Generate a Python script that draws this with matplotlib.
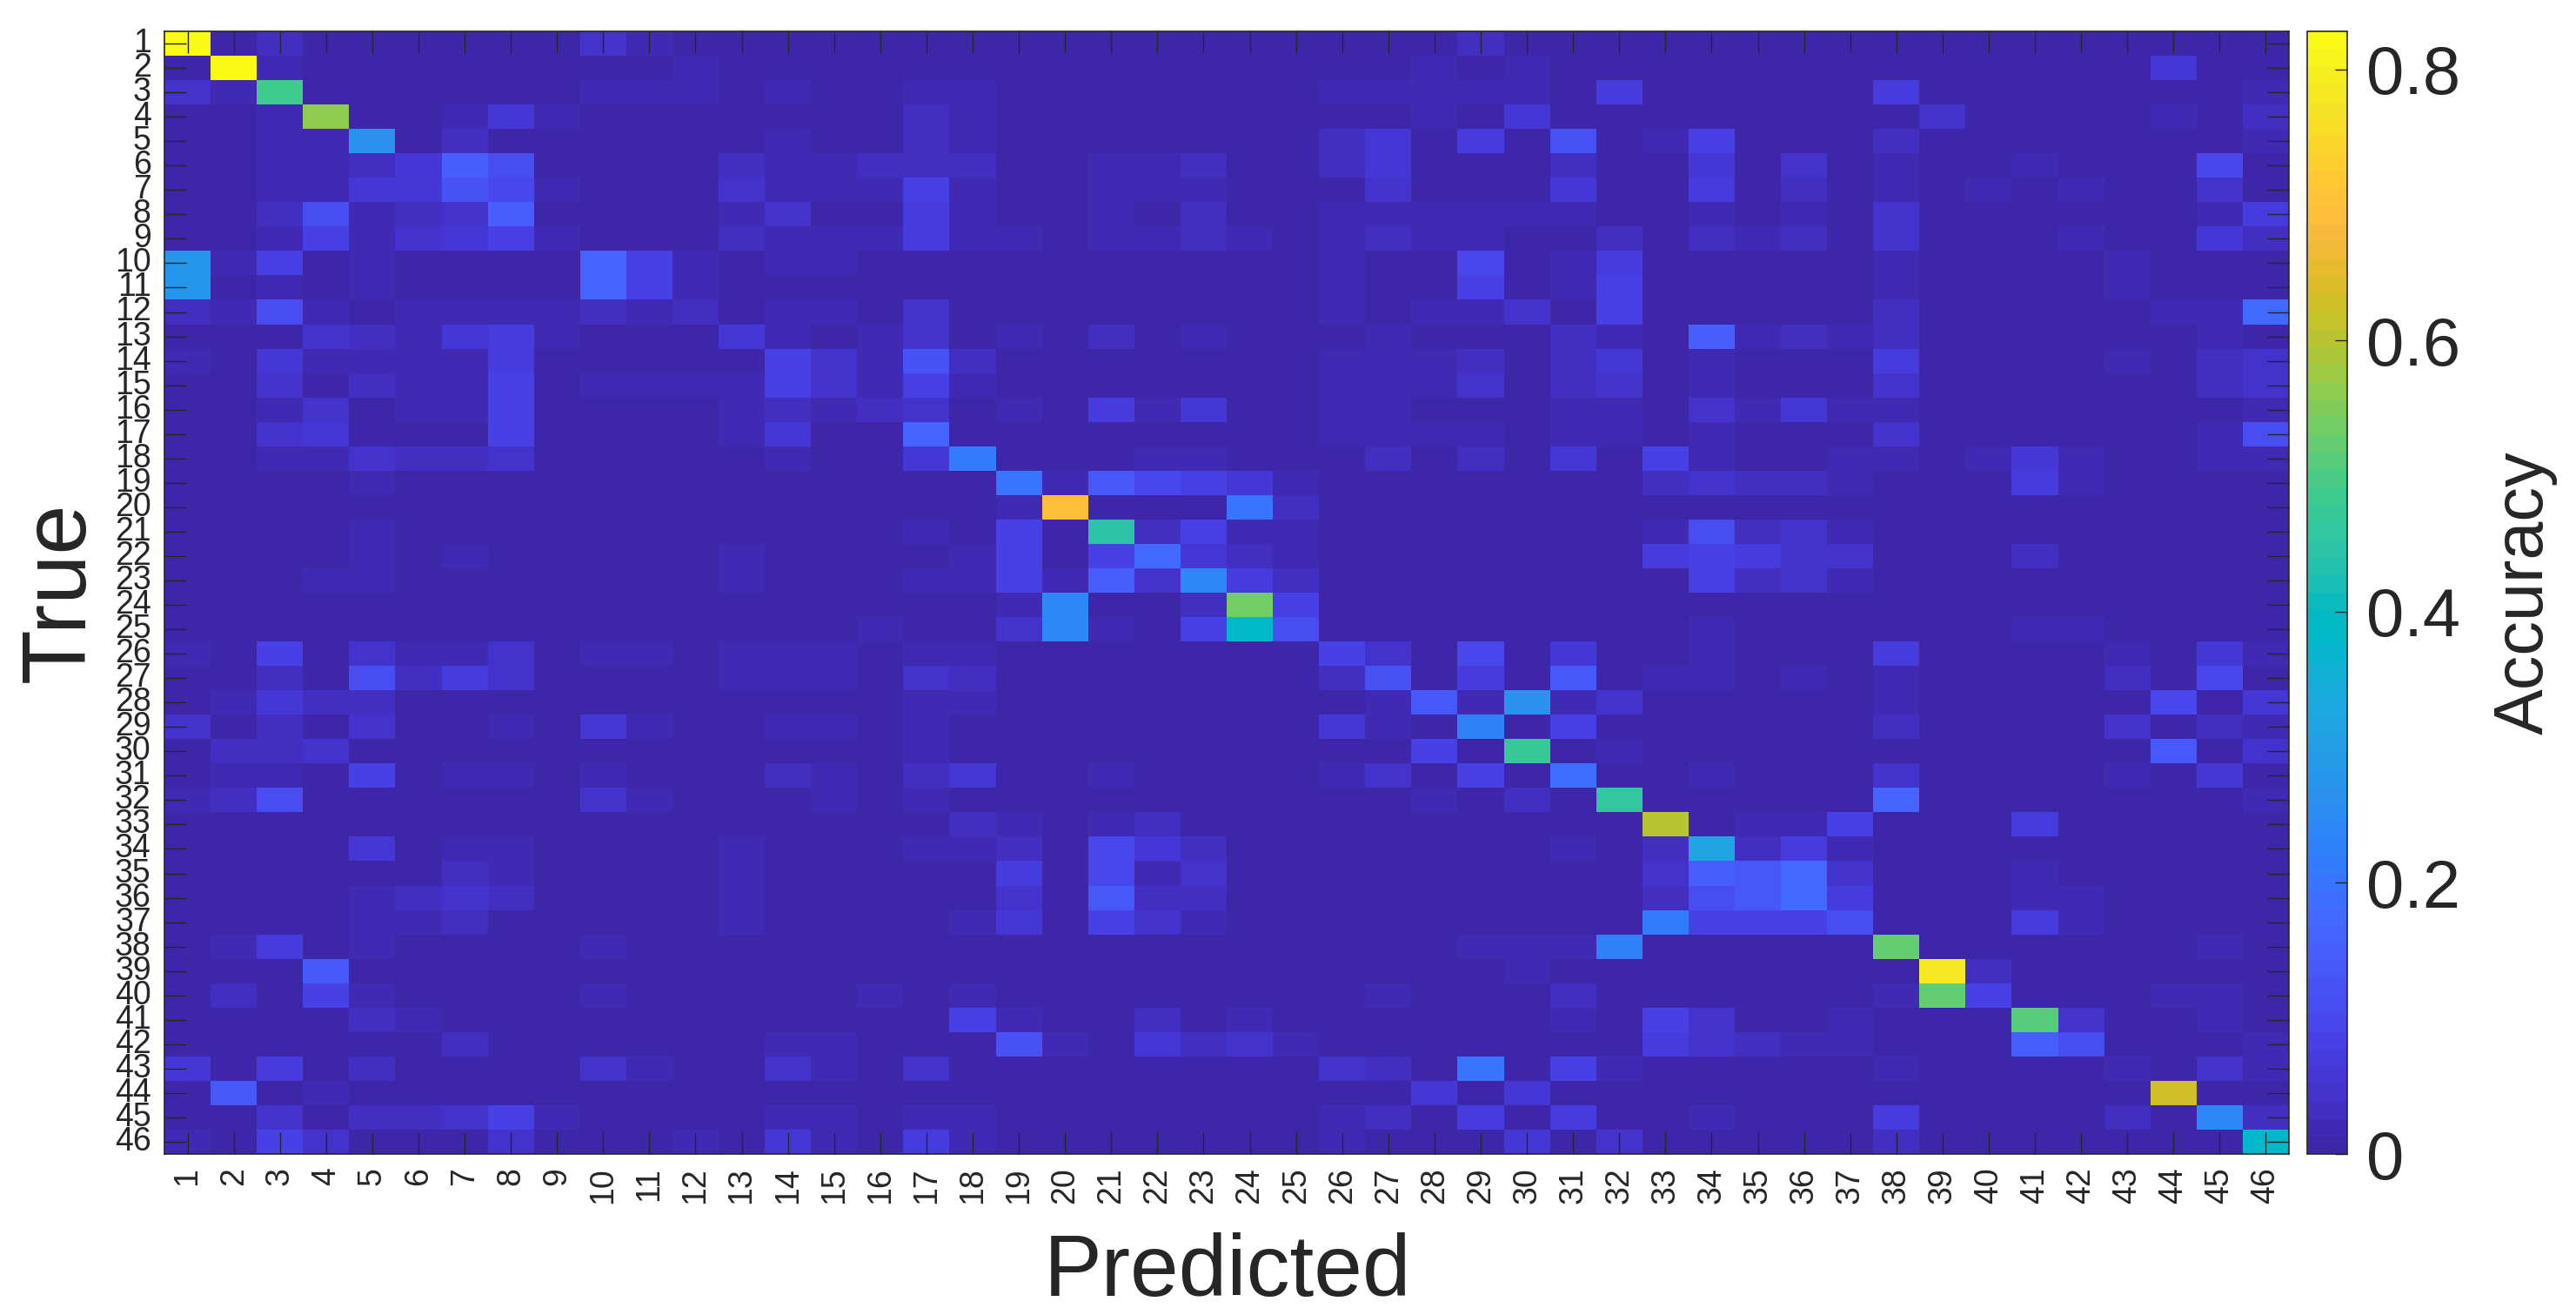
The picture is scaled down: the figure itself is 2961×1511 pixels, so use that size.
import numpy as np
import matplotlib
matplotlib.use("Agg")
import matplotlib.pyplot as plt
from matplotlib.colors import ListedColormap

plt.rcParams["font.family"] = ["Liberation Sans", "DejaVu Sans"]

W = 2961
H = 1511
dark = "#262626"

parula = [
    [0.2422, 0.1504, 0.6603], [0.2504, 0.1650, 0.7076], [0.2578, 0.1818, 0.7511], [0.2647, 0.1978, 0.7952],
    [0.2706, 0.2147, 0.8364], [0.2751, 0.2342, 0.8710], [0.2783, 0.2559, 0.8991], [0.2803, 0.2782, 0.9221],
    [0.2813, 0.3006, 0.9414], [0.2810, 0.3228, 0.9579], [0.2795, 0.3447, 0.9717], [0.2760, 0.3667, 0.9829],
    [0.2699, 0.3892, 0.9906], [0.2602, 0.4123, 0.9952], [0.2440, 0.4358, 0.9988], [0.2206, 0.4603, 0.9973],
    [0.1963, 0.4847, 0.9892], [0.1834, 0.5074, 0.9798], [0.1786, 0.5289, 0.9682], [0.1764, 0.5499, 0.9520],
    [0.1687, 0.5703, 0.9359], [0.1540, 0.5902, 0.9218], [0.1460, 0.6091, 0.9079], [0.1380, 0.6276, 0.8973],
    [0.1248, 0.6459, 0.8883], [0.1113, 0.6635, 0.8763], [0.0952, 0.6798, 0.8598], [0.0689, 0.6948, 0.8394],
    [0.0297, 0.7082, 0.8163], [0.0036, 0.7197, 0.7917], [0.0067, 0.7290, 0.7678], [0.0433, 0.7371, 0.7436],
    [0.0964, 0.7500, 0.7120], [0.1408, 0.7584, 0.6842], [0.1717, 0.7692, 0.6554], [0.1938, 0.7797, 0.6251],
    [0.2161, 0.7843, 0.5923], [0.2470, 0.7918, 0.5567], [0.2906, 0.7973, 0.5188], [0.3406, 0.8008, 0.4789],
    [0.3909, 0.8029, 0.4354], [0.4456, 0.8024, 0.3909], [0.5044, 0.7993, 0.3480], [0.5616, 0.7942, 0.3045],
    [0.6174, 0.7876, 0.2612], [0.6720, 0.7793, 0.2227], [0.7242, 0.7698, 0.1910], [0.7738, 0.7598, 0.1646],
    [0.8203, 0.7498, 0.1535], [0.8634, 0.7406, 0.1596], [0.9035, 0.7330, 0.1774], [0.9393, 0.7288, 0.2100],
    [0.9728, 0.7298, 0.2394], [0.9956, 0.7434, 0.2371], [0.9970, 0.7659, 0.2199], [0.9952, 0.7861, 0.1999],
    [0.9892, 0.8086, 0.1816], [0.9786, 0.8352, 0.1717], [0.9676, 0.8614, 0.1561], [0.9610, 0.8892, 0.1537],
    [0.9597, 0.9135, 0.1423], [0.9628, 0.9373, 0.1265], [0.9691, 0.9606, 0.1064], [0.9769, 0.9839, 0.0805],
]

labels = [str(i) for i in range(1, 47)]
vmax = 0.828
background = 0.5

# hundredths of accuracy, {predicted: value} for each true class
rows = [
    {1: 83, 3: 4, 10: 5, 11: 3, 29: 4},
    {2: 83, 3: 2, 12: 2, 28: 3, 30: 3, 44: 6},
    {1: 5, 2: 3, 3: 48, 10: 3, 11: 2, 12: 2, 14: 3, 17: 3, 18: 2, 26: 2, 27: 2, 28: 3, 29: 3, 30: 3, 32: 7, 38: 7, 46: 3},
    {3: 2, 4: 56, 7: 2, 8: 6, 9: 3, 17: 4, 18: 2, 28: 3, 30: 6, 39: 5, 44: 2, 46: 4},
    {3: 2, 4: 2, 5: 26, 7: 4, 14: 3, 17: 4, 18: 2, 26: 4, 27: 6, 29: 7, 31: 12, 33: 3, 34: 9, 38: 4, 46: 2},
    {3: 3, 4: 3, 5: 4, 6: 6, 7: 15, 8: 11, 13: 4, 14: 3, 15: 2, 16: 4, 17: 4, 18: 4, 21: 2, 22: 2, 23: 4, 26: 4, 27: 6,
     31: 4, 34: 6, 36: 5, 38: 3, 41: 2, 45: 10},
    {3: 2, 4: 2, 5: 6, 6: 6, 7: 12, 8: 10, 9: 3, 13: 5, 14: 3, 15: 3, 16: 3, 17: 9, 18: 2, 21: 3, 22: 2, 23: 2, 27: 5,
     31: 6, 34: 7, 36: 4, 38: 3, 40: 2, 42: 2, 45: 5},
    {3: 4, 4: 11, 5: 3, 6: 4, 7: 5, 8: 15, 13: 3, 14: 5, 17: 7, 18: 2, 21: 2, 23: 4, 26: 2, 27: 3, 28: 2, 29: 2, 30: 3,
     31: 3, 34: 3, 36: 3, 38: 5, 45: 3, 46: 7},
    {3: 3, 4: 8, 5: 3, 6: 5, 7: 6, 8: 9, 9: 2, 13: 4, 14: 2, 15: 2, 16: 3, 17: 7, 18: 2, 19: 2, 21: 3, 22: 2, 23: 4, 24: 3,
     26: 2, 27: 4, 28: 3, 29: 2, 32: 4, 34: 4, 35: 3, 36: 4, 38: 5, 42: 3, 45: 6, 46: 4},
    {1: 28, 2: 2, 3: 8, 5: 2, 10: 16, 11: 8, 12: 2, 14: 2, 15: 2, 26: 2, 29: 10, 31: 2, 32: 7, 38: 3, 43: 2},
    {1: 28, 3: 3, 5: 3, 10: 16, 11: 9, 12: 2, 26: 2, 29: 8, 31: 3, 32: 9, 38: 3, 43: 2},
    {1: 4, 2: 3, 3: 11, 4: 3, 6: 2, 7: 2, 8: 3, 9: 2, 10: 4, 11: 3, 12: 4, 14: 3, 15: 3, 17: 5, 26: 2, 28: 3, 29: 3, 30: 5,
     32: 8, 38: 4, 44: 2, 45: 3, 46: 17},
    {4: 5, 5: 4, 6: 2, 7: 6, 8: 7, 9: 2, 13: 6, 14: 3, 16: 2, 17: 5, 19: 2, 21: 4, 23: 3, 27: 2, 31: 4, 32: 3, 34: 15,
     35: 2, 36: 4, 37: 3, 38: 4, 45: 3},
    {1: 2, 3: 6, 4: 2, 5: 3, 6: 2, 7: 3, 8: 7, 14: 8, 15: 5, 16: 2, 17: 12, 18: 4, 26: 2, 27: 2, 28: 2, 29: 4, 31: 4, 32: 6,
     34: 2, 38: 7, 43: 2, 45: 4, 46: 5},
    {3: 5, 5: 4, 6: 2, 7: 3, 8: 8, 10: 3, 11: 2, 12: 2, 13: 2, 14: 9, 15: 5, 16: 3, 17: 8, 18: 3, 26: 3, 27: 3, 28: 2,
     29: 5, 31: 4, 32: 5, 34: 3, 38: 5, 45: 4, 46: 5},
    {3: 3, 4: 5, 6: 2, 7: 3, 8: 8, 13: 3, 14: 4, 15: 2, 16: 4, 17: 5, 19: 3, 21: 7, 22: 2, 23: 6, 26: 2, 27: 2, 31: 3, 32: 3,
     34: 5, 35: 3, 36: 6, 37: 2, 38: 3, 46: 3},
    {3: 5, 4: 6, 8: 8, 13: 2, 14: 6, 17: 16, 26: 2, 27: 2, 28: 2, 29: 3, 31: 3, 32: 2, 34: 3, 38: 5, 45: 3, 46: 11},
    {3: 2, 4: 2, 5: 5, 6: 4, 7: 4, 8: 5, 14: 3, 17: 6, 18: 21, 22: 3, 23: 2, 27: 4, 29: 4, 31: 6, 33: 9, 34: 3, 37: 3, 38: 3,
     40: 2, 41: 6, 42: 2, 45: 3, 46: 3},
    {5: 2, 19: 20, 20: 3, 21: 14, 22: 10, 23: 8, 24: 6, 25: 3, 33: 4, 34: 5, 35: 4, 36: 4, 37: 3, 41: 7, 42: 3},
    {19: 2, 20: 69, 24: 20, 25: 4, 34: 1},
    {5: 2, 17: 3, 19: 9, 21: 45, 22: 4, 23: 8, 24: 3, 25: 3, 33: 2, 34: 11, 35: 4, 36: 5, 37: 2},
    {5: 2, 7: 2, 13: 2, 18: 3, 19: 9, 21: 9, 22: 17, 23: 6, 24: 4, 25: 2, 33: 7, 34: 8, 35: 7, 36: 5, 37: 5, 41: 4},
    {4: 2, 5: 2, 13: 3, 17: 2, 18: 2, 19: 8, 20: 2, 21: 15, 22: 5, 23: 24, 24: 7, 25: 4, 34: 8, 35: 4, 36: 5, 37: 3},
    {19: 2, 20: 24, 22: 1, 23: 4, 24: 54, 25: 8, 37: 1},
    {16: 2, 19: 5, 20: 24, 21: 3, 23: 8, 24: 38, 25: 11, 34: 2, 41: 2, 42: 2},
    {1: 2, 3: 9, 5: 5, 6: 3, 7: 3, 8: 5, 10: 2, 11: 3, 13: 2, 14: 3, 15: 2, 17: 3, 18: 3, 26: 8, 27: 5, 29: 10, 31: 6,
     34: 2, 38: 7, 43: 2, 45: 6, 46: 3},
    {3: 4, 5: 11, 6: 4, 7: 7, 8: 5, 13: 2, 14: 3, 15: 2, 17: 5, 18: 4, 26: 4, 27: 12, 29: 7, 31: 13, 33: 2, 34: 3, 36: 2,
     38: 2, 43: 4, 45: 10},
    {2: 3, 3: 6, 4: 4, 5: 4, 17: 2, 18: 2, 27: 3, 28: 13, 29: 2, 30: 26, 31: 3, 32: 5, 38: 2, 44: 10, 46: 6},
    {1: 5, 3: 4, 5: 5, 8: 3, 10: 6, 11: 3, 14: 3, 15: 3, 17: 3, 26: 6, 27: 3, 29: 22, 31: 9, 38: 4, 43: 5, 45: 4, 46: 3},
    {2: 4, 3: 4, 4: 5, 17: 2, 28: 8, 30: 47, 32: 3, 44: 14, 46: 5},
    {2: 2, 3: 2, 5: 9, 7: 3, 8: 3, 10: 2, 14: 4, 15: 2, 17: 4, 18: 6, 21: 2, 26: 3, 27: 5, 29: 8, 31: 19, 34: 2, 38: 5,
     43: 3, 45: 6},
    {1: 2, 2: 4, 3: 11, 10: 5, 11: 2, 15: 2, 17: 3, 28: 2, 30: 4, 32: 46, 38: 16, 46: 3},
    {18: 4, 19: 3, 21: 2, 22: 4, 33: 60, 35: 2, 36: 2, 37: 9, 41: 7},
    {5: 6, 7: 3, 8: 3, 13: 3, 17: 3, 18: 2, 19: 4, 21: 10, 22: 6, 23: 4, 31: 2, 33: 4, 34: 32, 35: 4, 36: 7, 37: 3},
    {7: 4, 8: 2, 13: 3, 19: 7, 21: 10, 22: 3, 23: 5, 33: 5, 34: 15, 35: 14, 36: 17, 37: 5, 41: 2},
    {5: 3, 6: 4, 7: 5, 8: 4, 13: 2, 19: 5, 21: 14, 22: 4, 23: 4, 33: 4, 34: 11, 35: 14, 36: 17, 37: 7, 41: 3, 42: 2},
    {5: 2, 6: 2, 7: 4, 13: 3, 18: 3, 19: 6, 21: 8, 22: 5, 23: 3, 33: 21, 34: 8, 35: 9, 36: 8, 37: 11, 41: 7, 42: 3},
    {2: 3, 3: 7, 5: 2, 10: 2, 29: 2, 30: 2, 31: 2, 32: 22, 38: 52, 45: 3},
    {4: 14, 30: 2, 39: 78, 40: 4},
    {2: 4, 4: 8, 5: 2, 10: 3, 16: 3, 18: 2, 27: 2, 31: 4, 34: 1, 38: 3, 39: 53, 40: 8, 44: 2, 45: 2},
    {5: 4, 6: 2, 18: 8, 19: 3, 22: 4, 24: 2, 31: 3, 33: 8, 34: 5, 37: 3, 41: 51, 42: 5, 45: 2},
    {7: 4, 14: 3, 15: 2, 19: 12, 20: 3, 22: 6, 23: 4, 24: 5, 25: 2, 33: 7, 34: 5, 35: 4, 36: 2, 37: 2, 41: 15, 42: 11, 46: 2},
    {1: 6, 3: 7, 5: 4, 10: 5, 11: 3, 14: 5, 15: 3, 17: 5, 26: 5, 27: 4, 29: 20, 31: 9, 32: 2, 38: 3, 43: 3, 45: 5, 46: 2},
    {2: 14, 4: 3, 28: 6, 30: 6, 44: 63},
    {3: 5, 5: 4, 6: 4, 7: 5, 8: 8, 9: 2, 14: 3, 15: 2, 17: 3, 18: 3, 26: 3, 27: 4, 29: 7, 31: 7, 34: 2, 38: 7, 43: 4, 45: 24, 46: 4},
    {1: 2, 3: 9, 4: 5, 8: 5, 12: 3, 14: 6, 15: 3, 17: 7, 18: 2, 26: 2, 30: 6, 32: 5, 38: 4, 46: 38},
]

matrix = np.full((46, 46), background)
for r, row in enumerate(rows):
    for c, v in row.items():
        # my readings of the faint cells came out half a step too bright
        matrix[r, c - 1] = v - 0.5 if v < 7 else v
matrix = matrix / 100

fig = plt.figure(figsize=(W / 100, H / 100), dpi=100)
ax = fig.add_axes([189 / W, 1 - 1326 / H, (2631 - 189) / W, (1326 - 36) / H])
edges = np.arange(0.5, 47)
cmap = ListedColormap(parula)
mesh = ax.pcolormesh(edges, edges, matrix, cmap=cmap, vmin=0, vmax=vmax, linewidth=0, antialiased=False)
ax.set_xlim(0.5, 46.5)
ax.set_ylim(46.5, 0.5)
ax.set_xticks(range(1, 47))
ax.set_yticks(range(1, 47))
ax.set_xticklabels(labels, rotation=90, va="top")
ax.set_yticklabels(labels, va="center")
ax.tick_params(axis="both", direction="in", top=True, right=True, length=18, width=1, color=dark,
               labelcolor=dark, labelsize=27, pad=11)
for s in ax.spines.values():
    s.set_color(dark)
    s.set_linewidth(1.2)

cax = fig.add_axes([2652 / W, 1 - 1326 / H, (2698 - 2652) / W, (1326 - 36) / H])
cb = fig.colorbar(mesh, cax=cax)
cb.set_ticks([0, 0.2, 0.4, 0.6, 0.8])
cb.set_ticklabels(["0", "0.2", "0.4", "0.6", "0.8"])
cb.ax.tick_params(direction="in", length=10, width=1, color=dark, labelcolor=dark, labelsize=56, pad=16)
cb.outline.set_edgecolor(dark)
cb.outline.set_linewidth(1.2)

fig.text(1411 / W, 1 - 1463 / H, "Predicted", fontsize=72, color=dark, ha="center", va="center")
fig.text(70 / W, 1 - 680 / H, "True", fontsize=74, color=dark, rotation=90, ha="center", va="center")
fig.text(2902 / W, 1 - 681 / H, "Accuracy", fontsize=57, color=dark, rotation=90, ha="center", va="center")

fig.savefig("out.png", dpi=100)
plt.close(fig)
